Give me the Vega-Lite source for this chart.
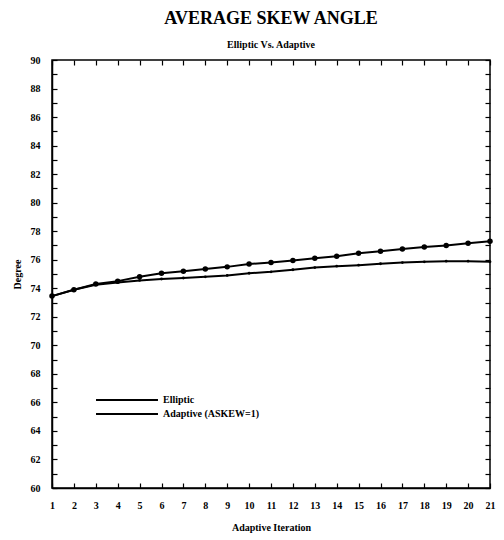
{
  "$schema": "https://vega.github.io/schema/vega-lite/v6.json",
  "width": 438,
  "height": 428,
  "autosize": {"type": "none"},
  "padding": {"left": 52, "top": 60, "right": 14, "bottom": 52},
  "background": "white",
  "title": {
    "text": "AVERAGE SKEW ANGLE",
    "subtitle": "Elliptic Vs. Adaptive",
    "anchor": "middle",
    "font": "Liberation Serif",
    "fontSize": 18,
    "fontWeight": "bold",
    "color": "black",
    "subtitleFont": "Liberation Serif",
    "subtitleFontSize": 10,
    "subtitleFontWeight": "bold",
    "subtitleColor": "black",
    "subtitlePadding": 12,
    "offset": 5
  },
  "config": {
    "view": {"stroke": "black", "strokeWidth": 1.5},
    "axis": {
      "grid": false,
      "domainColor": "black",
      "domainWidth": 1.5,
      "tickColor": "black",
      "tickWidth": 1.2,
      "labelFont": "Liberation Serif",
      "labelFontWeight": "bold",
      "labelColor": "black",
      "labelFontSize": 10,
      "titleFont": "Liberation Serif",
      "titleFontWeight": "bold",
      "titleColor": "black",
      "titleFontSize": 10
    },
    "legend": {
      "labelFont": "Liberation Serif",
      "labelFontWeight": "bold",
      "labelFontSize": 10,
      "labelColor": "black"
    }
  },
  "data": {
    "values": [
      {"iter": 1, "deg": 73.45, "series": "Elliptic"},
      {"iter": 2, "deg": 73.9, "series": "Elliptic"},
      {"iter": 3, "deg": 74.3, "series": "Elliptic"},
      {"iter": 4, "deg": 74.5, "series": "Elliptic"},
      {"iter": 5, "deg": 74.8, "series": "Elliptic"},
      {"iter": 6, "deg": 75.05, "series": "Elliptic"},
      {"iter": 7, "deg": 75.2, "series": "Elliptic"},
      {"iter": 8, "deg": 75.35, "series": "Elliptic"},
      {"iter": 9, "deg": 75.5, "series": "Elliptic"},
      {"iter": 10, "deg": 75.7, "series": "Elliptic"},
      {"iter": 11, "deg": 75.8, "series": "Elliptic"},
      {"iter": 12, "deg": 75.95, "series": "Elliptic"},
      {"iter": 13, "deg": 76.1, "series": "Elliptic"},
      {"iter": 14, "deg": 76.25, "series": "Elliptic"},
      {"iter": 15, "deg": 76.45, "series": "Elliptic"},
      {"iter": 16, "deg": 76.6, "series": "Elliptic"},
      {"iter": 17, "deg": 76.75, "series": "Elliptic"},
      {"iter": 18, "deg": 76.9, "series": "Elliptic"},
      {"iter": 19, "deg": 77.0, "series": "Elliptic"},
      {"iter": 20, "deg": 77.15, "series": "Elliptic"},
      {"iter": 21, "deg": 77.3, "series": "Elliptic"},
      {"iter": 1, "deg": 73.45, "series": "Adaptive (ASKEW=1)"},
      {"iter": 2, "deg": 73.9, "series": "Adaptive (ASKEW=1)"},
      {"iter": 3, "deg": 74.25, "series": "Adaptive (ASKEW=1)"},
      {"iter": 4, "deg": 74.4, "series": "Adaptive (ASKEW=1)"},
      {"iter": 5, "deg": 74.55, "series": "Adaptive (ASKEW=1)"},
      {"iter": 6, "deg": 74.65, "series": "Adaptive (ASKEW=1)"},
      {"iter": 7, "deg": 74.72, "series": "Adaptive (ASKEW=1)"},
      {"iter": 8, "deg": 74.8, "series": "Adaptive (ASKEW=1)"},
      {"iter": 9, "deg": 74.9, "series": "Adaptive (ASKEW=1)"},
      {"iter": 10, "deg": 75.05, "series": "Adaptive (ASKEW=1)"},
      {"iter": 11, "deg": 75.15, "series": "Adaptive (ASKEW=1)"},
      {"iter": 12, "deg": 75.3, "series": "Adaptive (ASKEW=1)"},
      {"iter": 13, "deg": 75.45, "series": "Adaptive (ASKEW=1)"},
      {"iter": 14, "deg": 75.55, "series": "Adaptive (ASKEW=1)"},
      {"iter": 15, "deg": 75.62, "series": "Adaptive (ASKEW=1)"},
      {"iter": 16, "deg": 75.72, "series": "Adaptive (ASKEW=1)"},
      {"iter": 17, "deg": 75.8, "series": "Adaptive (ASKEW=1)"},
      {"iter": 18, "deg": 75.85, "series": "Adaptive (ASKEW=1)"},
      {"iter": 19, "deg": 75.9, "series": "Adaptive (ASKEW=1)"},
      {"iter": 20, "deg": 75.9, "series": "Adaptive (ASKEW=1)"},
      {"iter": 21, "deg": 75.85, "series": "Adaptive (ASKEW=1)"}
    ]
  },
  "resolve": {"axis": {"x": "independent", "y": "independent"}},
  "layer": [
    {
      "mark": {"type": "line", "strokeWidth": 2},
      "encoding": {
        "x": {
          "field": "iter", "type": "quantitative",
          "scale": {"domain": [1, 21], "nice": false},
          "axis": {
            "orient": "bottom",
            "title": "Adaptive Iteration",
            "values": [1,2,3,4,5,6,7,8,9,10,11,12,13,14,15,16,17,18,19,20,21],
            "tickSize": -5,
            "labelPadding": 17,
            "titlePadding": 12,
            "labelFlush": false
          }
        },
        "y": {
          "field": "deg", "type": "quantitative",
          "scale": {"domain": [60, 90], "nice": false, "zero": false},
          "axis": {
            "orient": "left",
            "title": "Degree",
            "values": [60,61,62,63,64,65,66,67,68,69,70,71,72,73,74,75,76,77,78,79,80,81,82,83,84,85,86,87,88,89,90],
            "labelExpr": "datum.value % 2 == 0 ? datum.label : ''",
            "tickSize": -5,
            "labelPadding": 17,
            "titlePadding": 8,
            "labelFlush": false
          }
        },
        "color": {
          "field": "series", "type": "nominal",
          "scale": {"domain": ["Elliptic", "Adaptive (ASKEW=1)"], "range": ["black", "black"]},
          "legend": {
            "title": null,
            "orient": "none",
            "legendX": 66,
            "legendY": 331,
            "symbolType": "M-4,0H4",
            "symbolSize": 240,
            "symbolStrokeWidth": 2,
            "symbolFillColor": "transparent",
            "rowPadding": 0,
            "labelOffset": 27
          }
        }
      }
    },
    {
      "mark": {"type": "point", "filled": true, "opacity": 1},
      "encoding": {
        "x": {
          "field": "iter", "type": "quantitative",
          "axis": {
            "orient": "top", "title": null, "labels": false, "domain": false,
            "values": [1,2,3,4,5,6,7,8,9,10,11,12,13,14,15,16,17,18,19,20,21],
            "tickSize": -5
          }
        },
        "y": {
          "field": "deg", "type": "quantitative",
          "axis": {
            "orient": "right", "title": null, "labels": false, "domain": false,
            "values": [60,61,62,63,64,65,66,67,68,69,70,71,72,73,74,75,76,77,78,79,80,81,82,83,84,85,86,87,88,89,90],
            "tickSize": -5
          }
        },
        "color": {"field": "series", "type": "nominal", "legend": null},
        "size": {
          "condition": {"test": "datum.series == 'Elliptic'", "value": 30},
          "value": 8
        }
      }
    }
  ]
}
